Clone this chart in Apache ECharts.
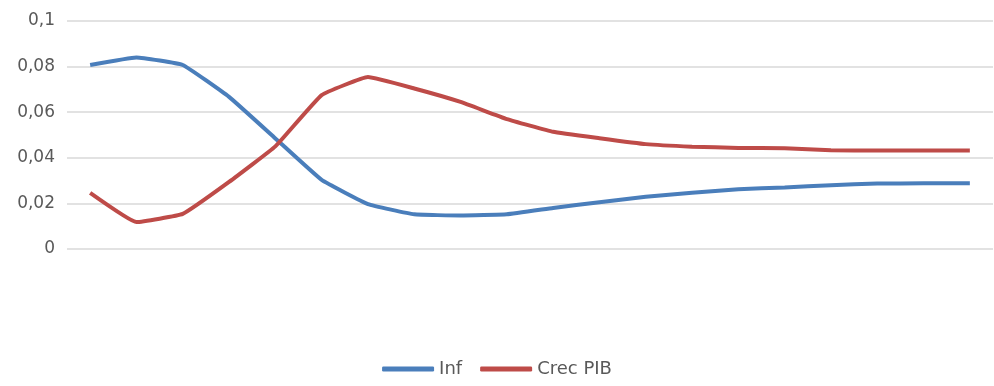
<!DOCTYPE html>
<html>
<head>
<meta charset="utf-8">
<script src="https://cdn.jsdelivr.net/npm/echarts@6/dist/echarts.min.js"></script>
<style>html,body{margin:0;padding:0;background:#fff}#c{width:994px;height:386px}</style>
</head>
<body>
<div id="c"></div>
<script>
var categories = ['1','2','3','4','5','6','7','8','9','10','11','12','13','14','15','16','17','18','19','20'];
var infValues = [0.0807,0.0840,0.0807,0.0667,0.0485,0.0303,0.0197,0.0152,0.0147,0.0152,0.0180,0.0205,0.0229,0.0247,0.0262,0.0270,0.0280,0.0287,0.0288,0.0288];
var pibValues = [0.0246,0.0118,0.0154,0.0294,0.0450,0.0675,0.0754,0.0704,0.0645,0.0570,0.0514,0.0486,0.0460,0.0449,0.0443,0.0442,0.0433,0.0432,0.0432,0.0432];
var seriesNames = ['Inf','Crec PIB'];

var chart = echarts.init(document.getElementById('c'));
chart.setOption({
  animation: false,
  grid: {left: 67, right: 1, top: 21, bottom: 137, containLabel: false},
  legend: {
    bottom: 3, left: 'center',
    itemWidth: 52, itemHeight: 5, itemGap: 18,
    icon: 'roundRect',
    textStyle: {color: '#595959', fontSize: 18, fontFamily: 'DejaVu Sans'},
    data: seriesNames
  },
  xAxis: {
    type: 'category', data: categories, boundaryGap: true,
    axisLine: {show: false}, axisTick: {show: false}, axisLabel: {show: false}
  },
  yAxis: {
    type: 'value', min: 0, max: 0.1, interval: 0.02,
    axisLine: {show: false}, axisTick: {show: false},
    splitLine: {lineStyle: {color: '#d9d9d9', width: 1.5}},
    axisLabel: {
      margin: 12, color: '#595959', fontSize: 17, fontFamily: 'DejaVu Sans',
      formatter: function (v) { return String(+v.toFixed(2)).replace('.', ','); }
    }
  },
  series: [
    {name: seriesNames[0], type: 'line', data: infValues, smooth: 0.1, showSymbol: false,
     lineStyle: {color: '#4a7ebb', width: 4}, itemStyle: {color: '#4a7ebb'}},
    {name: seriesNames[1], type: 'line', data: pibValues, smooth: 0.1, showSymbol: false,
     lineStyle: {color: '#be4b48', width: 4}, itemStyle: {color: '#be4b48'}}
  ]
});
</script>
</body>
</html>
